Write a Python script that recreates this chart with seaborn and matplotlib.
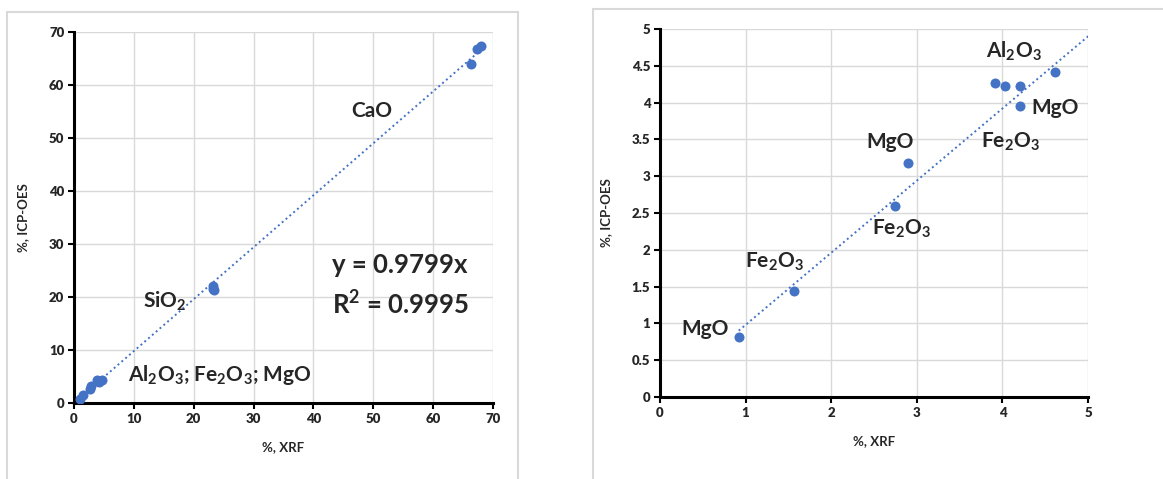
import matplotlib
matplotlib.use("Agg")
import matplotlib.pyplot as plt
from matplotlib.patches import Rectangle
import numpy as np
import pandas as pd
import seaborn as sns

# datos
oxide = ["MgO", "MgO", "MgO",
         "Fe2O3", "Fe2O3", "Fe2O3",
         "Al2O3", "Al2O3", "Al2O3",
         "SiO2", "SiO2", "SiO2",
         "CaO", "CaO", "CaO"]
xrf = [0.92, 2.90, 4.21,
       1.57, 2.75, 4.03,
       3.91, 4.20, 4.61,
       23.2, 23.4, 23.3,
       66.3, 67.3, 68.0]
icp = [0.81, 3.18, 3.95,
       1.44, 2.60, 4.22,
       4.26, 4.23, 4.42,
       22.0, 21.3, 21.6,
       64.0, 66.8, 67.4]
slope = 0.9799
r2 = 0.9995

left_ticks = [0, 10, 20, 30, 40, 50, 60, 70]
right_ticks_x = [0, 1, 2, 3, 4, 5]
right_ticks_y = [0, 0.5, 1, 1.5, 2, 2.5, 3, 3.5, 4, 4.5, 5]

df = pd.DataFrame({"oxide": oxide, "xrf": xrf, "icp": icp})

sns.set_style("whitegrid", {"grid.color": "#d9d9d9"})
plt.rcParams["font.family"] = ["Lato", "DejaVu Sans"]
plt.rcParams["mathtext.fontset"] = "custom"
plt.rcParams["mathtext.rm"] = "Lato:bold"
plt.rcParams["mathtext.it"] = "Lato:bold"
plt.rcParams["mathtext.bf"] = "Lato:bold"

W, H = 1163, 479
fig = plt.figure(figsize=(W / 100, H / 100), dpi=100)

# marcos grises de cada grafico (como en Excel)
fig.patches.append(Rectangle((7 / W, -0.1), 511 / W, 1.1 - 12 / H, transform=fig.transFigure,
                             fill=False, edgecolor="#d9d9d9", lw=1.5))
fig.patches.append(Rectangle((593 / W, -0.1), 0.6, 1.1 - 9 / H, transform=fig.transFigure,
                             fill=False, edgecolor="#d9d9d9", lw=1.5))

ax1 = fig.add_axes([74 / W, 76 / H, 419 / W, 371 / H])
ax2 = fig.add_axes([660 / W, 82 / H, 428 / W, 368 / H])

blue = "#4472C4"
xline = np.array([min(xrf), max(xrf)])

for ax in (ax1, ax2):
    sns.lineplot(x=xline, y=slope * xline, ax=ax, color=blue, lw=1.4,
                 linestyle=(0, (1, 1.6)), zorder=2)
    sns.scatterplot(data=df, x="xrf", y="icp", ax=ax, color=blue, s=52,
                    edgecolor=blue, linewidth=0, zorder=3)
    for s in ["top", "right"]:
        ax.spines[s].set_visible(False)
    for s in ["left", "bottom"]:
        ax.spines[s].set_color("black")
        ax.spines[s].set_linewidth(2.2)
    ax.tick_params(axis="both", direction="out", length=4, width=1.5, color="black",
                   labelsize=9.5, pad=3, bottom=True, left=True)
    ax.grid(True, color="#d9d9d9", lw=1)
    ax.set_axisbelow(True)

ax1.set_xlim(0, 70)
ax1.set_ylim(0, 70)
ax1.set_xticks(left_ticks)
ax1.set_yticks(left_ticks)
ax2.set_xlim(0, 5)
ax2.set_ylim(0, 5)
ax2.set_xticks(right_ticks_x)
ax2.set_yticks(right_ticks_y)
ax2.set_yticklabels([f"{v:g}" for v in right_ticks_y])

for ax in (ax1, ax2):
    for lab in ax.get_xticklabels() + ax.get_yticklabels():
        lab.set_fontweight("heavy")
    ax.set_xlabel("%, XRF", fontsize=9.5, fontweight="bold", labelpad=12)
    ax.set_ylabel("%, ICP-OES", fontsize=9.5, fontweight="bold", labelpad=14)

lbl = dict(fontsize=15, fontweight="bold", ha="center", va="center")
ax1.text(49.7, 55, "CaO", **lbl)
ax1.text(15.2, 19.1, "SiO$_2$", **lbl)
ax1.text(24.4, 5.3, "Al$_2$O$_3$; Fe$_2$O$_3$; MgO", **lbl)
ax1.text(54.5, 26.0, f"y = {slope}x", fontsize=18.5, fontweight="bold", ha="center", va="center")
ax1.text(54.5, 18.7, f"R$^2$ = {r2}", fontsize=18.5, fontweight="bold", ha="center", va="center")

ax2.text(4.14, 4.69, "Al$_2$O$_3$", **lbl)
ax2.text(4.61, 3.93, "MgO", **lbl)
ax2.text(4.09, 3.47, "Fe$_2$O$_3$", **lbl)
ax2.text(2.69, 3.47, "MgO", **lbl)
ax2.text(2.82, 2.29, "Fe$_2$O$_3$", **lbl)
ax2.text(1.34, 1.84, "Fe$_2$O$_3$", **lbl)
ax2.text(0.53, 0.92, "MgO", **lbl)

fig.savefig("out.png", dpi=100)
